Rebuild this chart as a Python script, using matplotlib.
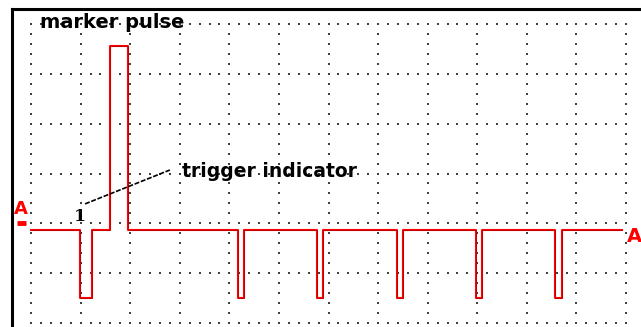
import matplotlib
matplotlib.use("Agg")
import matplotlib.pyplot as plt
from matplotlib.lines import Line2D
import numpy as np

# ---- data (in screen divisions) ----
edge_times = [0.0, 0.99, 1.23, 1.59, 1.96, 4.17, 4.29, 5.77, 5.89,
              7.38, 7.50, 8.98, 9.10, 10.57, 10.71, 11.92]
edge_levels = [1.87, 0.50, 1.87, 5.56, 1.87, 0.50, 1.87, 0.50, 1.87,
               0.50, 1.87, 0.50, 1.87, 0.50, 1.87, 1.87]
n_xdiv = 12
n_ydiv = 6
label_marker = "marker pulse"
label_trigger = "trigger indicator"
channel_label = "A"

W, H = 641, 327
fig = plt.figure(figsize=(W / 100, H / 100), dpi=100)
fig.patch.set_facecolor("white")
x0, x1, y0, y1 = 31, 626, 24, 323
ax = fig.add_axes([x0 / W, (H - y1) / H, (x1 - x0) / W, (y1 - y0) / H])
ax.set_xlim(0, n_xdiv)
ax.set_ylim(0, n_ydiv)
ax.axis("off")

# dotted grid
sub = 5
dots_x, dots_y = [], []
for gx in range(n_xdiv + 1):
    for k in range(n_ydiv * sub + 1):
        dots_x.append(gx); dots_y.append(k / sub)
for gy in range(n_ydiv + 1):
    for k in range(n_xdiv * sub + 1):
        dots_x.append(k / sub); dots_y.append(gy)
ax.scatter(dots_x, dots_y, s=1.6, marker="s", color="#404040", linewidths=0,
           clip_on=False, zorder=1)

# signal trace
ax.plot(edge_times, edge_levels, drawstyle="steps-post", color="#ff0000",
        lw=1.5, clip_on=False, zorder=3)
ax.plot(edge_times, edge_levels, drawstyle="steps-post", color="#b00000",
        lw=0.5, clip_on=False, zorder=4)

# annotations
ax.text(0.18, 6.04, label_marker, fontsize=14, fontweight="bold",
        ha="left", va="center", color="black", clip_on=False, zorder=5)
ax.text(3.05, 3.05, label_trigger, fontsize=13.5, fontweight="bold",
        ha="left", va="center", color="black", clip_on=False, zorder=5)
ax.plot([1.09, 2.80], [2.39, 3.07], color="black", lw=1.2,
        linestyle=(0, (3, 1)), clip_on=False, zorder=5)
ax.text(0.99, 2.13, "1", family="DejaVu Serif", fontsize=12.5, fontweight="bold",
        ha="center", va="center", color="black", clip_on=False, zorder=5)

# channel markers
ax.text(-0.2, 2.28, channel_label, fontsize=13, fontweight="bold", color="#ff0000",
        ha="center", va="center", clip_on=False, zorder=5)
ax.plot([-0.29, -0.11], [2.0, 2.0], color="#ff0000", lw=3.5, solid_capstyle="butt",
        clip_on=False, zorder=5)
ax.text(12.17, 1.74, channel_label, fontsize=14, fontweight="bold", color="#ff0000",
        ha="center", va="center", clip_on=False, zorder=5)

# frame (top and left visible)
fig.add_artist(Line2D([12 / W, 1.0], [1 - 9 / H, 1 - 9 / H], color="black", lw=2.2,
                      transform=fig.transFigure))
fig.add_artist(Line2D([12 / W, 12 / W], [0, 1 - 9 / H], color="black", lw=2.2,
                      transform=fig.transFigure))

fig.savefig("out.png", dpi=100, facecolor="white")
